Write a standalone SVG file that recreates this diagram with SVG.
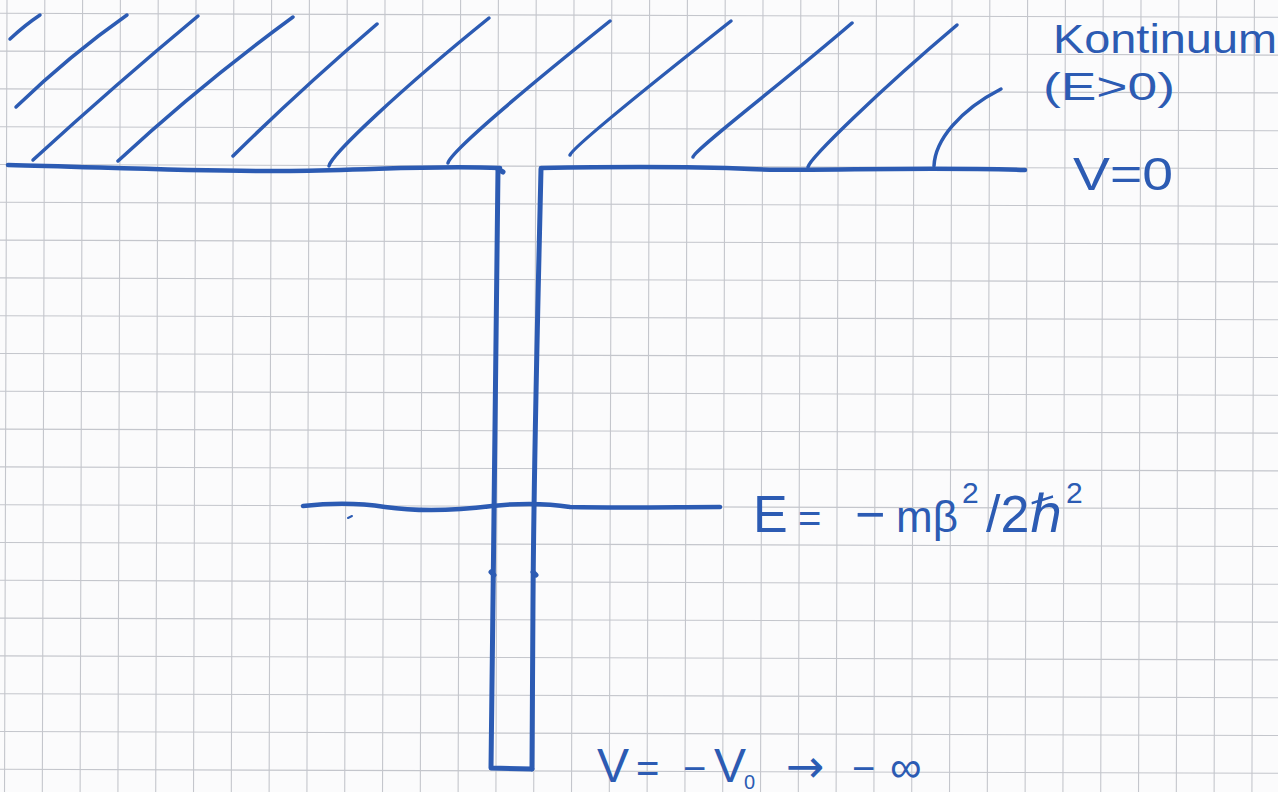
<svg xmlns="http://www.w3.org/2000/svg" width="1278" height="792" viewBox="0 0 1278 792">
<style>
.grid{fill:none;stroke:#c4c6cc;stroke-width:1.1}
.ink{fill:none;stroke:#2c5bb3;stroke-linecap:round;stroke-linejoin:round}
.hatch{stroke-width:3.5}
.bold{stroke-width:4.5}
.wall{stroke-width:5}
.lbl{font-family:"Liberation Sans","DejaVu Sans",sans-serif;fill:#2c5bb3}
</style>
<rect width="1278" height="792" fill="#fbfbfc"/>
<g id="grid" class="grid" transform="rotate(0.18)">
<path d="M7,-20V810M44.8,-20V810M82.6,-20V810M120.4,-20V810M158.2,-20V810M196,-20V810M233.8,-20V810M271.6,-20V810M309.4,-20V810M347.2,-20V810M385,-20V810M422.8,-20V810M460.6,-20V810M498.4,-20V810M536.2,-20V810M574,-20V810M611.8,-20V810M649.6,-20V810M687.4,-20V810M725.2,-20V810M763,-20V810M800.8,-20V810M838.6,-20V810M876.4,-20V810M914.2,-20V810M952,-20V810M989.8,-20V810M1027.6,-20V810M1065.4,-20V810M1103.2,-20V810M1141,-20V810M1178.8,-20V810M1216.6,-20V810M1254.4,-20V810"/>
<path d="M-20,13.3H1300M-20,51.1H1300M-20,88.9H1300M-20,126.7H1300M-20,164.5H1300M-20,202.3H1300M-20,240.1H1300M-20,277.9H1300M-20,315.7H1300M-20,353.5H1300M-20,391.3H1300M-20,429.1H1300M-20,466.9H1300M-20,504.7H1300M-20,542.5H1300M-20,580.3H1300M-20,618.1H1300M-20,655.9H1300M-20,693.7H1300M-20,731.5H1300M-20,769.3H1300"/>
</g>
<g id="continuum" class="ink hatch">
<path d="M10,39 Q25,25 40,15"/>
<path d="M16,107 Q70,55 127,15"/>
<path d="M33,160 Q115,85 198,16"/>
<path d="M118,161 Q200,85 293,17"/>
<path d="M233,156 Q300,90 377,24"/>
<path d="M329,166 C331,155 400,90 489,18"/>
<path d="M448,163 C450,152 530,85 610,21"/>
<path d="M570,155 C572,148 650,85 731,21"/>
<path d="M693,157 C694,150 780,85 852,23"/>
<path d="M808,167 C810,158 880,90 957,25"/>
<path d="M934,166 C935,140 960,110 1001,89"/>
</g>
<g id="potential-zero" class="ink bold">
<path d="M8,165 C100,167 200,172 290,171 S430,165 500,168"/>
<path d="M541,168 C600,167 680,166 750,169 S900,166 1025,170"/>
</g>
<g id="well" class="ink wall">
<path d="M498,169 L503,172"/>
<path d="M498,169 C497,300 494,450 493,600 L491,768 L532,769"/>
<path d="M541,169 C538,300 534,450 533,600 L532,769"/>
<path d="M491,572 L494,575 M533,572 L536,575"/>
</g>
<g id="energy-level" class="ink bold">
<path d="M303,506 C330,503 360,503 385,507 C420,512 460,510 492,506 C520,503 545,503 570,507 C620,508 680,507 720,507"/>
<path d="M348,518 L352,516" stroke-width="2"/>
</g>
<g id="labels">
<text class="lbl" x="1053" y="53" font-size="40" textLength="224" lengthAdjust="spacingAndGlyphs">Kontinuum</text>
<text class="lbl" x="1043" y="100" font-size="38" textLength="132" lengthAdjust="spacingAndGlyphs">(E&gt;0)</text>
<text class="lbl" x="1073" y="190" font-size="46" textLength="100" lengthAdjust="spacingAndGlyphs">V=0</text>
<text class="lbl" y="532" font-size="52"><tspan x="753">E</tspan><tspan x="798" font-size="40">=</tspan><tspan x="855">−</tspan><tspan x="896" font-size="44">mβ</tspan><tspan x="962" y="503" font-size="30">2</tspan><tspan x="986" y="532">/2ℏ</tspan><tspan x="1066" y="503" font-size="30">2</tspan></text>
<text class="lbl" y="782" font-size="48"><tspan x="597">V</tspan><tspan x="636" font-size="40">=</tspan><tspan x="683" font-size="40">−</tspan><tspan x="714">V</tspan><tspan x="744" y="789" font-size="20">0</tspan><tspan x="786" y="782" font-size="46" font-family="DejaVu Sans, sans-serif">→</tspan><tspan x="852" font-size="40">−</tspan><tspan x="890" font-size="44">∞</tspan></text>
</g>
</svg>
